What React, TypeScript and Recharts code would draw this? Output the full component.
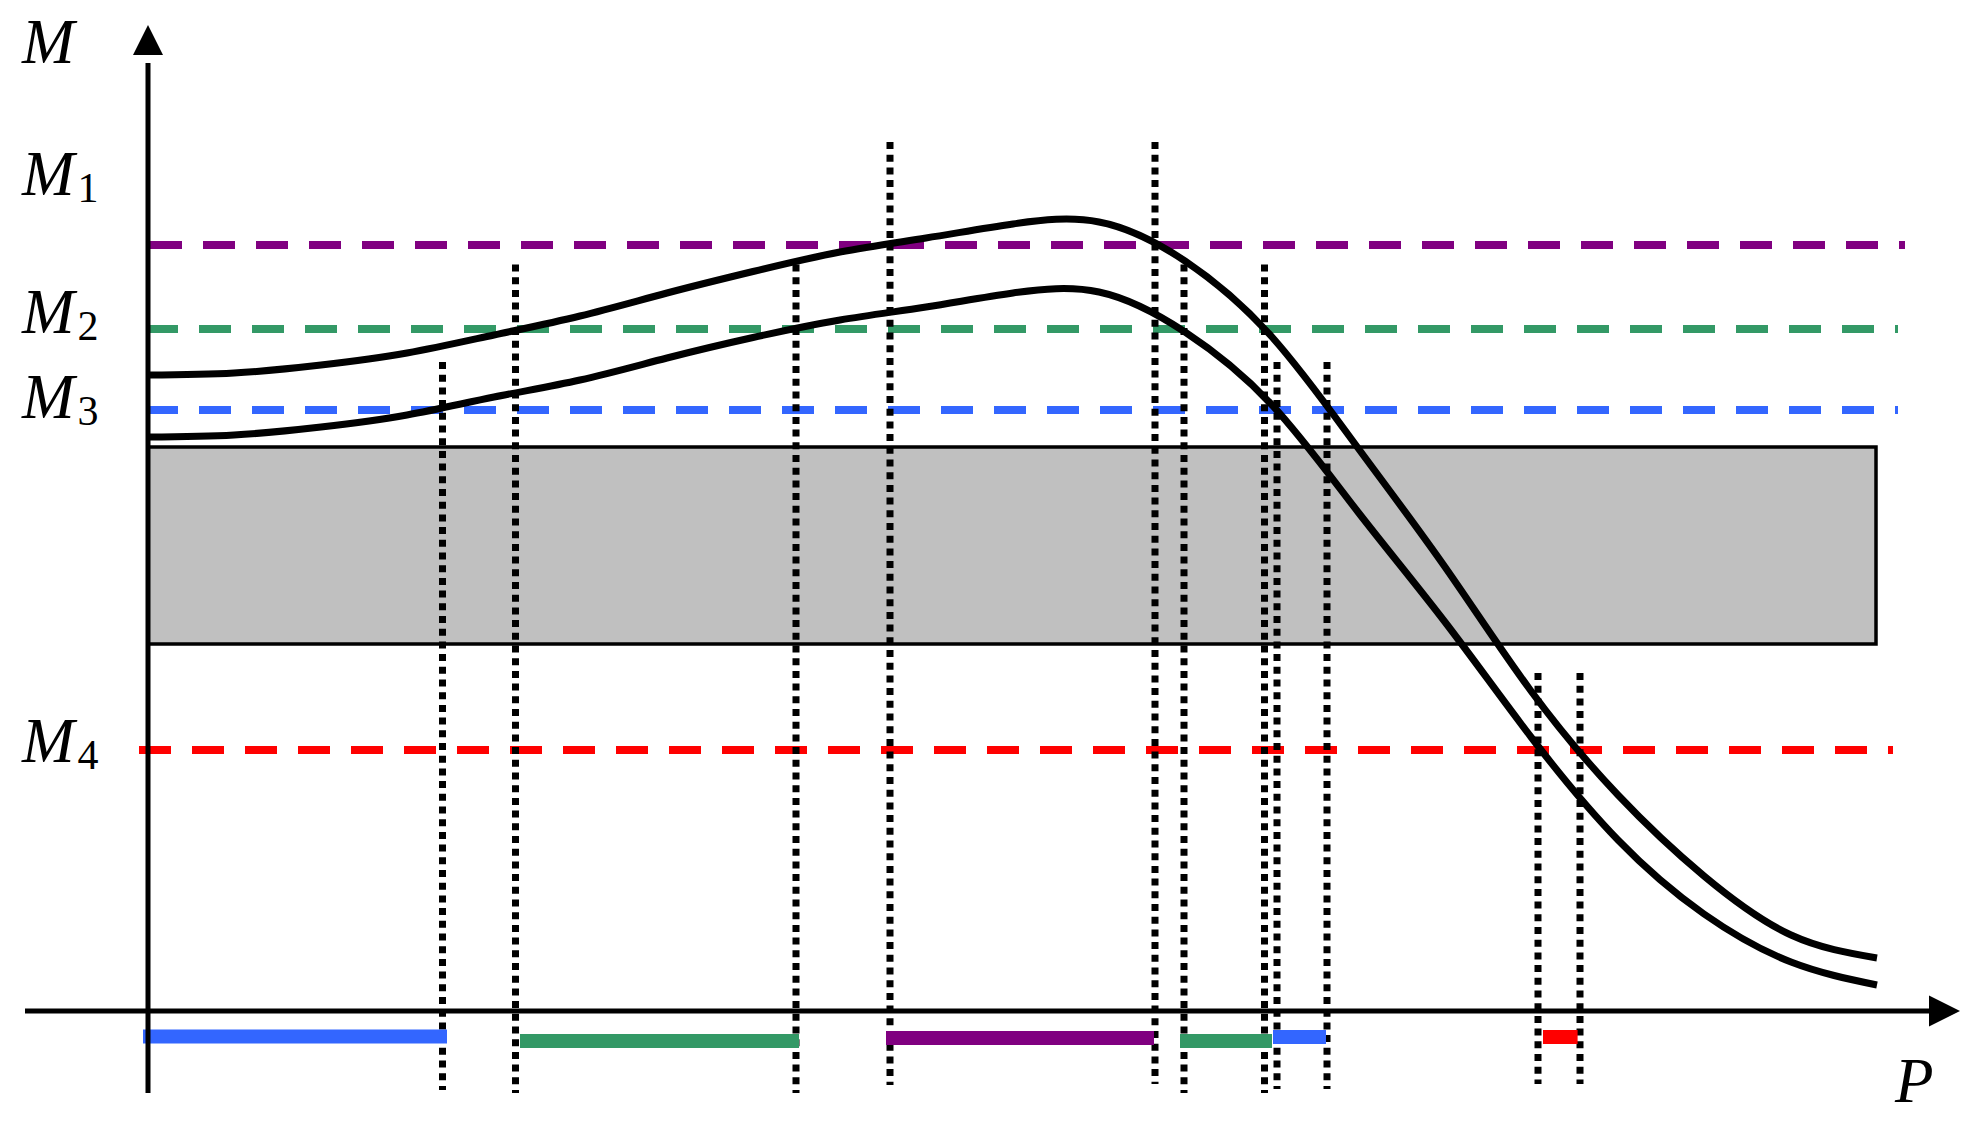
import React from "react";
import {
  ComposedChart,
  Line,
  XAxis,
  YAxis,
  ReferenceLine,
  ReferenceArea,
  ReferenceDot,
} from "recharts";

// P along the horizontal axis, M up the vertical one (origin where the axes cross)
const curveP = [
  0, 8.6, 17.3, 25.9, 34.6, 43.2, 51.9, 60.5, 69.2, 77.8, 86.5, 95.1, 103.7, 112.4, 121.0, 129.7,
  138.3, 147.0, 155.6, 164.3, 172.9,
];
const upperM = [
  63.6, 63.8, 64.6, 65.8, 67.6, 69.5, 71.8, 73.95, 75.9, 77.3, 78.7, 78.9, 75.0, 67.4, 56.3, 44.4,
  32.0, 21.6, 13.5, 7.6, 5.3,
];
const lowerM = [
  57.4, 57.6, 58.4, 59.6, 61.4, 63.1, 65.3, 67.35, 69.1, 70.4, 71.8, 71.9, 67.9, 60.6, 49.9, 38.9,
  27.4, 17.1, 9.7, 4.9, 2.6,
];

// threshold levels M1..M4
const levelNames = ["1", "2", "3", "4"];
const levelValues = [76.6, 68.2, 60.1, 26.1];
const levelColors = ["#800080", "#339966", "#3366FF", "#FF0000"];
const levelFrom = [0.2, -0.2, -0.2, -0.9];
const levelTo = [175.7, 175.0, 175.0, 174.5];
const levelLabelAt = [81.6, 67.8, 59.3, 24.9];

// grey band
const bandLow = 36.7;
const bandHigh = 56.4;
const bandEnd = 172.8;

// dotted crossing markers
const cutP = [29.45, 36.75, 64.8, 74.2, 100.7, 103.6, 111.65, 112.9, 117.9, 139.0, 143.2];
const cutTop = [64.9, 74.65, 74.65, 86.9, 86.9, 74.65, 74.65, 64.9, 64.9, 33.8, 33.8];
const cutBottom = [-7.9, -8.2, -8.2, -7.4, -7.3, -8.2, -8.2, -7.8, -7.8, -7.3, -7.3];

// coloured intervals under the P axis
const spanFrom = [-0.5, 37.2, 73.8, 103.2, 112.5, 139.5];
const spanTo = [29.9, 65.1, 100.6, 112.4, 117.8, 142.96];
const spanM = [-2.55, -3.0, -2.7, -3.0, -2.6, -2.6];
const spanColor = ["#3366FF", "#339966", "#800080", "#339966", "#3366FF", "#FF0000"];

const upperCurve = curveP.map((p, i) => ({ p, m: upperM[i] }));
const lowerCurve = curveP.map((p, i) => ({ p, m: lowerM[i] }));

const W = 1978;
const H = 1124;
const serif = "Liberation Serif";

const label = (main: string, sub?: string) => (props: any) => (
  <text
    x={props.cx}
    y={props.cy}
    style={{ fontFamily: serif, fontSize: 63, fontStyle: "italic" }}
    fill="#000"
  >
    {main}
    {sub && (
      <tspan style={{ fontFamily: serif, fontStyle: "normal", fontSize: 42 }} dx={3} dy={7}>
        {sub}
      </tspan>
    )}
  </text>
);

const arrowRight = (props: any) => (
  <polygon
    points={`${props.cx},${props.cy} ${props.cx - 31},${props.cy - 15.5} ${props.cx - 31},${props.cy + 15.5}`}
    fill="#000"
  />
);

const arrowUp = (props: any) => (
  <polygon
    points={`${props.cx},${props.cy} ${props.cx - 15},${props.cy + 30} ${props.cx + 15},${props.cy + 30}`}
    fill="#000"
  />
);

export default function App() {
  return (
    <div style={{ position: "absolute", left: 0, top: 0, width: W, height: H, background: "#fff" }}>
      <ComposedChart width={W} height={H} margin={{ top: 0, right: 0, bottom: 0, left: 0 }}>
        <XAxis dataKey="p" type="number" domain={[-14.8, 183]} allowDataOverflow hide />
        <YAxis type="number" domain={[-11.3, 101.1]} allowDataOverflow hide />

        <ReferenceArea
          x1={0}
          x2={bandEnd}
          y1={bandLow}
          y2={bandHigh}
          fill="#C0C0C0"
          fillOpacity={1}
          stroke="#000"
          strokeWidth={3.5}
        />

        {levelValues.map((v, i) => (
          <ReferenceLine
            key={"lv" + i}
            segment={[
              { x: levelFrom[i], y: v },
              { x: levelTo[i], y: v },
            ]}
            stroke={levelColors[i]}
            strokeWidth={8}
            strokeDasharray="32 21"
          />
        ))}

        {cutP.map((p, i) => (
          <ReferenceLine
            key={"cut" + i}
            segment={[
              { x: p, y: cutTop[i] },
              { x: p, y: cutBottom[i] },
            ]}
            stroke="#000"
            strokeWidth={7}
            strokeDasharray="7 5.7"
          />
        ))}

        {spanFrom.map((a, i) => (
          <ReferenceLine
            key={"sp" + i}
            segment={[
              { x: a, y: spanM[i] },
              { x: spanTo[i], y: spanM[i] },
            ]}
            stroke={spanColor[i]}
            strokeWidth={14}
          />
        ))}

        {/* axes */}
        <ReferenceLine
          segment={[
            { x: -12.3, y: 0 },
            { x: 179, y: 0 },
          ]}
          stroke="#000"
          strokeWidth={5}
        />
        <ReferenceLine
          segment={[
            { x: 0, y: -8.2 },
            { x: 0, y: 94.8 },
          ]}
          stroke="#000"
          strokeWidth={5}
        />
        <ReferenceDot x={181.2} y={0} r={0} shape={arrowRight} />
        <ReferenceDot x={0} y={98.6} r={0} shape={arrowUp} />

        <Line
          data={upperCurve}
          dataKey="m"
          type="natural"
          stroke="#000"
          strokeWidth={7}
          dot={false}
          activeDot={false}
          isAnimationActive={false}
        />
        <Line
          data={lowerCurve}
          dataKey="m"
          type="natural"
          stroke="#000"
          strokeWidth={7}
          dot={false}
          activeDot={false}
          isAnimationActive={false}
        />

        <ReferenceDot x={-12.6} y={94.8} r={0} shape={label("M")} />
        {levelLabelAt.map((m, i) => (
          <ReferenceDot key={"lb" + i} x={-12.6} y={m} r={0} shape={label("M", levelNames[i])} />
        ))}
        <ReferenceDot x={174.7} y={-9.1} r={0} shape={label("P")} />
      </ComposedChart>
    </div>
  );
}
